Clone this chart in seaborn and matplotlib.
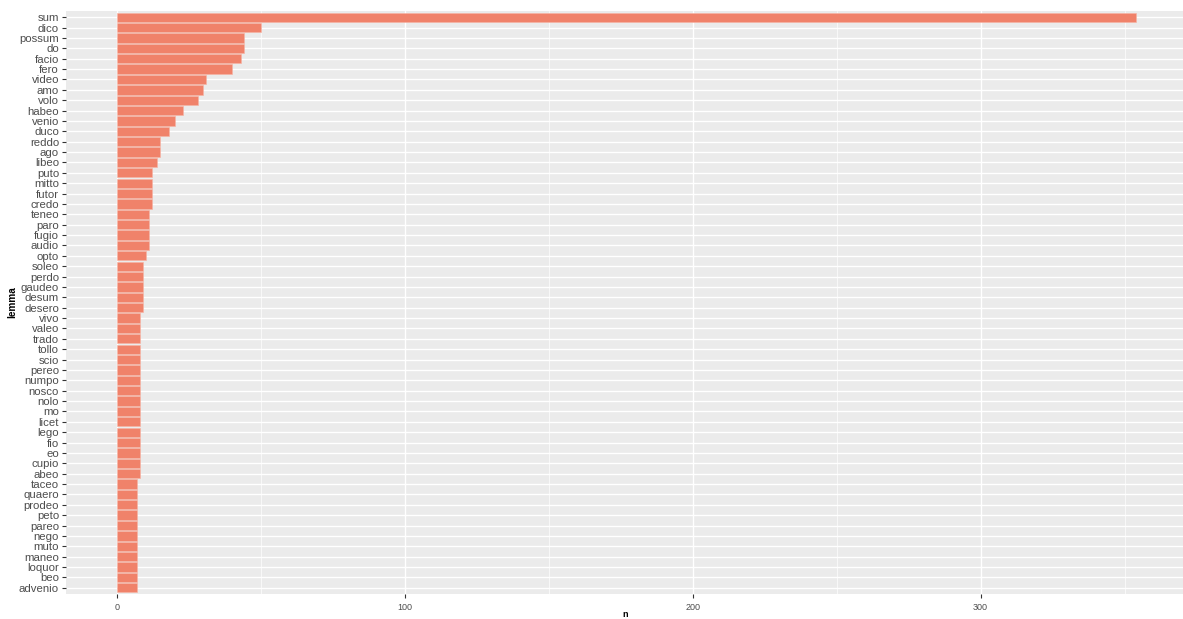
import matplotlib
matplotlib.use("Agg")
import matplotlib.pyplot as plt
import seaborn as sns
import pandas as pd
from matplotlib.ticker import MultipleLocator

lemmas = ["sum", "dico", "possum", "do", "facio", "fero", "video", "amo", "volo",
          "habeo", "venio", "duco", "reddo", "ago", "libeo", "puto", "mitto", "futor",
          "credo", "teneo", "paro", "fugio", "audio", "opto", "soleo", "perdo", "gaudeo",
          "desum", "desero", "vivo", "valeo", "trado", "tollo", "scio", "pereo", "numpo",
          "nosco", "nolo", "mo", "licet", "lego", "fio", "eo", "cupio", "abeo", "taceo",
          "quaero", "prodeo", "peto", "pareo", "nego", "muto", "maneo", "loquor", "beo",
          "advenio"]
counts = [354, 50, 44, 44, 43, 40, 31, 30, 28,
          23, 20, 18, 15, 15, 14, 12, 12, 12,
          12, 11, 11, 11, 11, 10, 9, 9, 9,
          9, 9, 8, 8, 8, 8, 8, 8, 8,
          8, 8, 8, 8, 8, 8, 8, 8, 8, 7,
          7, 7, 7, 7, 7, 7, 7, 7, 7,
          7]
x_ticks = [0, 100, 200, 300]

df = pd.DataFrame({"lemma": lemmas, "n": counts})

sns.set_theme(style="darkgrid")
plt.rcParams["font.family"] = ["Liberation Sans", "DejaVu Sans"]

fig = plt.figure(figsize=(11.83, 6.19), dpi=100)
ax = fig.add_axes([66 / 1183, 1 - 594 / 619, (1187 - 66) / 1183, (594 - 11) / 619])
ax.set_facecolor("#EBEBEB")

sns.barplot(data=df, x="n", y="lemma", orient="h", color="#F0826A", saturation=1,
            width=0.9, ax=ax, edgecolor="#F6B3A3", linewidth=0.4, zorder=3)

nmax = max(counts)
ax.set_xlim(-0.05 * nmax, nmax * 1.05)
ax.set_ylim(len(lemmas) - 1 + 0.6, -0.6)

ax.set_xticks(x_ticks)
ax.xaxis.set_minor_locator(MultipleLocator(50))
ax.grid(which="major", color="white", linewidth=1.0, zorder=0)
ax.grid(which="minor", axis="x", color="white", linewidth=0.5, zorder=0)
ax.set_axisbelow(True)
for s in ax.spines.values():
    s.set_visible(False)

ax.tick_params(axis="y", which="major", length=3, width=0.8, color="#333333",
               labelsize=8.2, labelcolor="#4D4D4D", pad=2, left=True)
ax.tick_params(axis="x", which="major", length=3, width=0.8, color="#333333",
               labelsize=6.5, labelcolor="#4D4D4D", pad=3.5, bottom=True)
ax.tick_params(axis="x", which="minor", length=0)

ax.set_xlabel("n", fontsize=6.5, color="black", fontweight="bold", labelpad=3)
ax.xaxis.set_label_coords((625 - 66) / (1187 - 66), -16 / 583)
ax.set_ylabel("lemma", fontsize=7.2, color="black", fontweight="bold", labelpad=4)
ax.yaxis.set_label_coords(-49 / (1187 - 66), 0.5)

fig.savefig("out.png", dpi=100)
